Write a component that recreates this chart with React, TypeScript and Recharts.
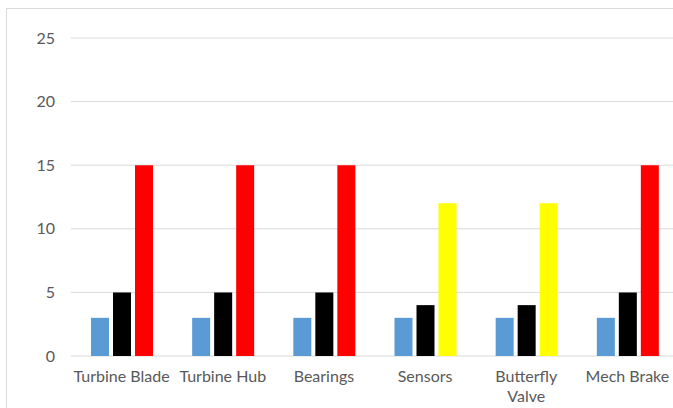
import React from "react";
import { BarChart, Bar, XAxis, YAxis, CartesianGrid, Cell } from "recharts";

const categories = ["Turbine Blade", "Turbine Hub", "Bearings", "Sensors", "Butterfly Valve", "Mech Brake"];
const seriesA = [3, 3, 3, 3, 3, 3];
const seriesB = [5, 5, 5, 4, 4, 5];
const seriesC = [15, 15, 15, 12, 12, 15];
const yTicks = [0, 5, 10, 15, 20, 25];

// labels that break onto two lines under the axis
const wrapped: Record<string, string[]> = { "Butterfly Valve": ["Butterfly", "Valve"] };

const cColors = ["#ff0000", "#ff0000", "#ff0000", "#ffff00", "#ffff00", "#ff0000"];

const data = categories.map((name, i) => ({ name, a: seriesA[i], b: seriesB[i], c: seriesC[i] }));

const FONT = "Lato, 'Noto Sans', sans-serif";

function CategoryTick(props: any) {
  const { x, y, payload } = props;
  const lines = wrapped[payload.value] ?? [payload.value];
  return (
    <text x={x} y={y + 18} textAnchor="middle" fill="#595959" fontSize={16} fontFamily={FONT}>
      {lines.map((l, i) => (
        <tspan key={l} x={x} dy={i === 0 ? 0 : 20}>
          {l}
        </tspan>
      ))}
    </text>
  );
}

export default function App() {
  return (
    <div style={{ position: "fixed", left: 0, top: 0, width: 673, height: 408, overflow: "hidden", background: "#fff" }}>
      <div
        style={{
          position: "absolute",
          left: 6,
          top: 8,
          width: 800,
          height: 500,
          border: "1px solid #d9d9d9",
        }}
      />
      <div style={{ position: "absolute", left: 0, top: 0 }}>
        <BarChart
          width={688}
          height={420}
          data={data}
          margin={{ top: 38, right: 10, bottom: 14, left: 0 }}
          barGap={4}
          barSize={18}
        >
          <CartesianGrid vertical={false} stroke="#d9d9d9" />
          <XAxis
            dataKey="name"
            axisLine={false}
            tickLine={false}
            height={50}
            interval={0}
            tick={<CategoryTick />}
          />
          <YAxis
            domain={[0, 25]}
            ticks={yTicks}
            width={71}
            axisLine={false}
            tickLine={false}
            tickMargin={10}
            tick={{ fill: "#595959", fontSize: 16, fontFamily: FONT }}
          />
          <Bar dataKey="a" fill="#5b9bd5" isAnimationActive={false} />
          <Bar dataKey="b" fill="#000000" isAnimationActive={false} />
          <Bar dataKey="c" isAnimationActive={false}>
            {data.map((d, i) => (
              <Cell key={d.name} fill={cColors[i]} />
            ))}
          </Bar>
        </BarChart>
      </div>
    </div>
  );
}
